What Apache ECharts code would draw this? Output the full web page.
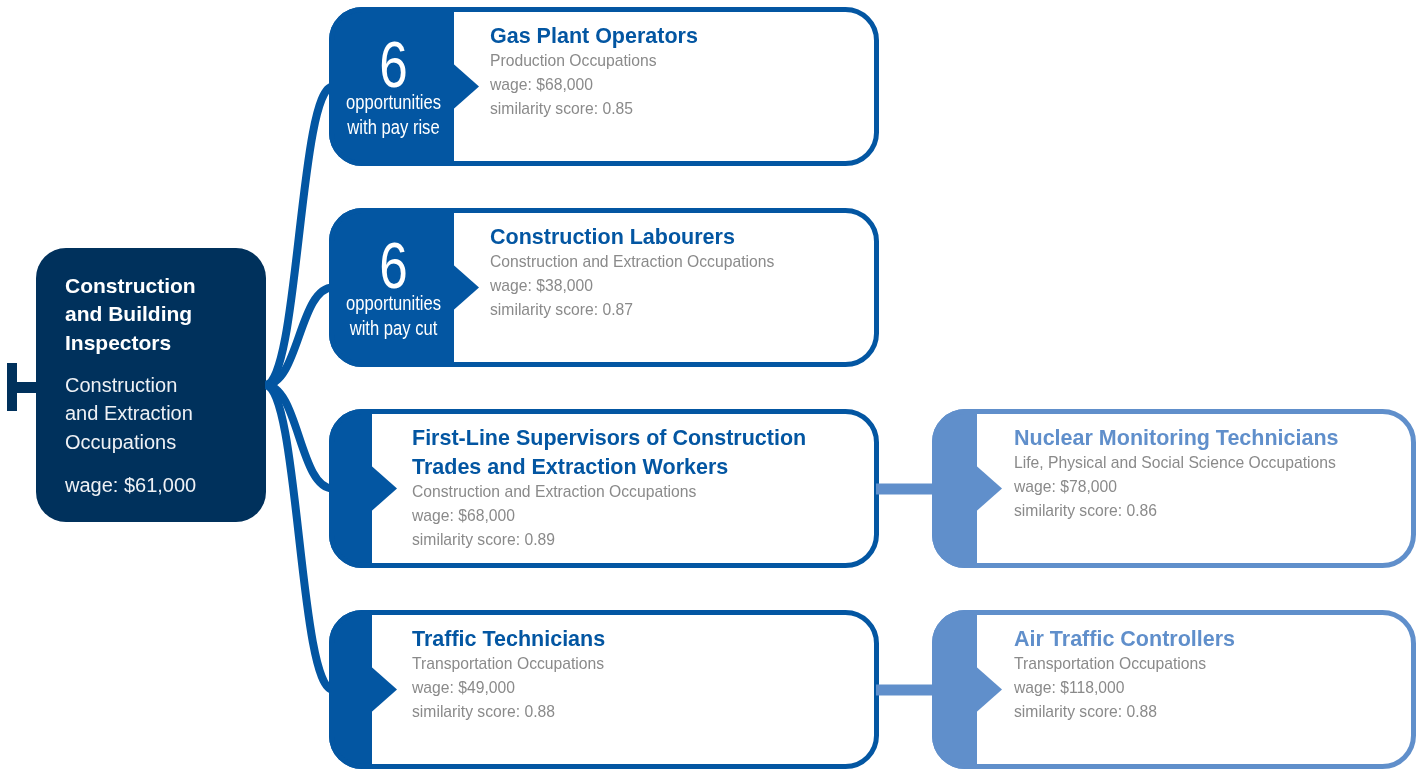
<!DOCTYPE html>
<html>
<head>
<meta charset="UTF-8">
<title>Career pathways</title>
<script src="https://cdn.jsdelivr.net/npm/echarts@6/dist/echarts.min.js"></script>
<style>
  html, body { margin: 0; padding: 0; background: #fff; }
  #main { width: 1423px; height: 769px; }
</style>
</head>
<body>
<div id="main"></div>
<script type="text/javascript">
// node data
var titles = [
  ['Construction', 'and Building', 'Inspectors'],
  ['Gas Plant Operators'],
  ['Construction Labourers'],
  ['First-Line Supervisors of Construction', 'Trades and Extraction Workers'],
  ['Traffic Technicians'],
  ['Nuclear Monitoring Technicians'],
  ['Air Traffic Controllers']
];
var groups = [
  ['Construction', 'and Extraction', 'Occupations'],
  ['Production Occupations'],
  ['Construction and Extraction Occupations'],
  ['Construction and Extraction Occupations'],
  ['Transportation Occupations'],
  ['Life, Physical and Social Science Occupations'],
  ['Transportation Occupations']
];
var wages = [61000, 68000, 38000, 68000, 49000, 78000, 118000];
var scores = [null, 0.85, 0.87, 0.89, 0.88, 0.86, 0.88];
var levels = [0, 1, 1, 1, 1, 2, 2];
var rows = [1.5, 0, 1, 2, 3, 2, 3];
var parents = [-1, 0, 0, 0, 0, 3, 4];
var badgeCounts = [null, 6, 6, null, null, null, null];
var badgeLabels = [null, ['opportunities', 'with pay rise'], ['opportunities', 'with pay cut'], null, null, null, null];

// layout
var colX = [36, 329, 932];
var colW = [230, 550, 484];
var rowTop0 = 7, rowStep = 201, boxH = 159;
var rootTop = 248, rootH = 274;

var NAVY = '#00315c', BLUE = '#0356a2', LIGHT = '#608fcb', GREY = '#8a8a8a';
var FONT = "'Liberation Sans', Arial, sans-serif";

function fmtWage(v) { return 'wage: $' + v.toLocaleString('en-US'); }

function nodeRect(i, api) {
  var lvl = levels[i];
  var top = lvl === 0 ? rootTop : rowTop0 + rowStep * rows[i];
  var h = lvl === 0 ? rootH : boxH;
  var p0 = api.coord([colX[lvl], top]);
  var p1 = api.coord([colX[lvl] + colW[lvl], top + h]);
  return { x: p0[0], y: p0[1], w: p1[0] - p0[0], h: p1[1] - p0[1] };
}

function txt(s, x, y, fill, size, weight, align, sx) {
  return {
    type: 'text',
    x: x, y: y, scaleX: sx || 1,
    style: {
      text: s, x: 0, y: 0, fill: fill,
      fontSize: size, fontWeight: weight || 'normal', fontFamily: FONT,
      align: align || 'left', verticalAlign: 'middle'
    }
  };
}

function renderItem(params, api) {
  var i = api.value(2);
  var lvl = levels[i];
  var r = nodeRect(i, api);
  var cy = r.y + r.h / 2;
  var ch = [];

  if (lvl === 0) {
    // little bracket at the left
    ch.push({ type: 'rect', shape: { x: r.x - 29, y: cy - 22, width: 10, height: 48 }, style: { fill: NAVY } });
    ch.push({ type: 'rect', shape: { x: r.x - 20, y: cy - 3, width: 22, height: 11 }, style: { fill: NAVY } });
    ch.push({ type: 'rect', shape: { x: r.x, y: r.y, width: r.w, height: r.h, r: 30 }, style: { fill: NAVY } });
    var tx = r.x + 29, ty = r.y + 39;
    titles[i].forEach(function (s, k) { ch.push(txt(s, tx, ty + k * 28.6, '#fff', 21, 'bold')); });
    ty = r.y + 138;
    groups[i].forEach(function (s, k) { ch.push(txt(s, tx, ty + k * 28.6, '#eef1f5', 20)); });
    ch.push(txt(fmtWage(wages[i]), tx, r.y + 238, '#eef1f5', 20));
    return { type: 'group', children: ch };
  }

  var col = lvl === 1 ? BLUE : LIGHT;
  var par = nodeRect(parents[i], api);

  if (lvl === 1) {
    var sx = par.x + par.w - 1, sy = par.y + par.h / 2;
    var mx = (sx + r.x) / 2 + 2;
    ch.push({
      type: 'bezierCurve',
      shape: { x1: sx, y1: sy, cpx1: mx, cpy1: sy, cpx2: mx, cpy2: cy, x2: r.x + 4, y2: cy },
      style: { stroke: BLUE, lineWidth: 8, fill: null }
    });
  } else {
    ch.push({ type: 'rect', shape: { x: par.x + par.w - 3, y: cy - 5, width: r.x - par.x - par.w + 6, height: 11 }, style: { fill: LIGHT } });
  }

  var hasBadge = badgeCounts[i] != null;
  var fillW = hasBadge ? 125 : (lvl === 1 ? 43 : 45);
  ch.push({ type: 'rect', shape: { x: r.x + 2.5, y: r.y + 2.5, width: r.w - 5, height: r.h - 5, r: 31 }, style: { fill: '#fff' } });
  ch.push({ type: 'rect', shape: { x: r.x, y: r.y, width: fillW, height: r.h, r: [33, 0, 0, 33] }, style: { fill: col } });
  ch.push({
    type: 'polygon',
    shape: { points: [[r.x + fillW - 1, cy - 23], [r.x + fillW + 25, cy], [r.x + fillW - 1, cy + 23]] },
    style: { fill: col }
  });
  ch.push({ type: 'rect', shape: { x: r.x + 2.5, y: r.y + 2.5, width: r.w - 5, height: r.h - 5, r: 31 }, style: { fill: null, stroke: col, lineWidth: 5 } });

  if (hasBadge) {
    var bx = r.x + fillW / 2 + 2;
    ch.push(txt(String(badgeCounts[i]), bx, r.y + 62, '#fff', 64, 'normal', 'center', 0.8));
    badgeLabels[i].forEach(function (s, k) { ch.push(txt(s, bx, r.y + 96 + k * 25, '#fff', 20, 'normal', 'center', 0.83)); });
  }

  var x0 = r.x + fillW + (hasBadge ? 36 : (lvl === 1 ? 40 : 37));
  var y0 = r.y + 30;
  titles[i].forEach(function (s, k) { ch.push(txt(s, x0, y0 + k * 29, col, 21.5, 'bold')); });
  var yl = y0 + (titles[i].length - 1) * 29 + 25;
  var lines = groups[i].concat([fmtWage(wages[i]), 'similarity score: ' + scores[i].toFixed(2)]);
  lines.forEach(function (s, k) { ch.push(txt(s, x0, yl + k * 24, GREY, 15.7)); });

  return { type: 'group', children: ch };
}

var myChart = echarts.init(document.getElementById('main'));
var nodeData = titles.map(function (t, i) { return [levels[i], rows[i], i]; });

myChart.setOption({
  animation: false,
  grid: { left: 0, right: 0, top: 0, bottom: 0 },
  xAxis: { type: 'value', min: 0, max: 1423, show: false },
  yAxis: { type: 'value', min: 0, max: 769, inverse: true, show: false },
  series: [{
    type: 'custom',
    renderItem: renderItem,
    data: nodeData,
    clip: false,
    silent: true
  }]
});
</script>
</body>
</html>
